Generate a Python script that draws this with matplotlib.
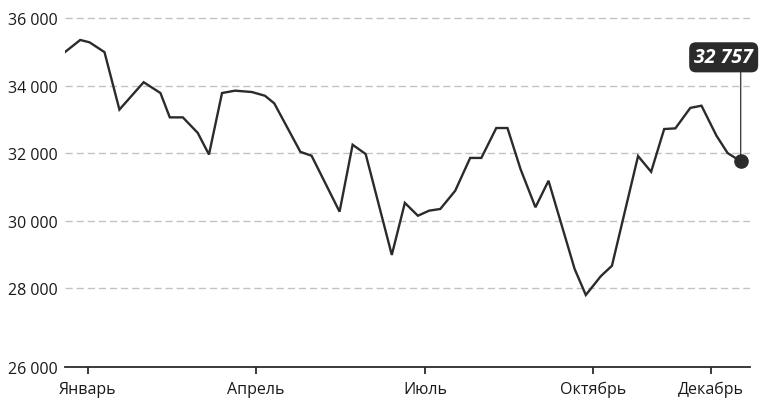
import matplotlib
matplotlib.use("Agg")
import matplotlib.pyplot as plt
import pandas as pd

# weekly-ish index values over the year
dates = ["2019-01-03", "2019-01-11", "2019-01-16", "2019-01-24", "2019-02-01",
         "2019-02-14", "2019-02-23", "2019-02-28", "2019-03-07", "2019-03-15",
         "2019-03-21", "2019-03-28", "2019-04-04", "2019-04-13", "2019-04-20",
         "2019-04-25", "2019-05-09", "2019-05-15", "2019-05-30", "2019-06-06",
         "2019-06-13", "2019-06-27", "2019-07-04", "2019-07-11", "2019-07-17",
         "2019-07-23", "2019-07-31", "2019-08-08", "2019-08-14", "2019-08-22",
         "2019-08-28", "2019-09-04", "2019-09-12", "2019-09-19", "2019-10-03",
         "2019-10-09", "2019-10-17", "2019-10-23", "2019-11-06", "2019-11-13",
         "2019-11-20", "2019-11-26", "2019-12-04", "2019-12-10", "2019-12-18",
         "2019-12-24", "2019-12-31"]
values = [35000, 35350, 35280, 34990, 33290,
          34100, 33780, 33060, 33060, 32600,
          31960, 33780, 33850, 33810, 33700,
          33475, 32040, 31925, 30270, 32250,
          31975, 28990, 30530, 30150, 30300,
          30350, 30890, 31860, 31860, 32745,
          32745, 31530, 30400, 31185, 28575,
          27805, 28360, 28670, 31915, 31450,
          32715, 32735, 33340, 33405, 32520,
          32005, 31760]

month_ticks = ["2019-01-15", "2019-04-15", "2019-07-15", "2019-10-13", "2019-12-15"]
month_labels = ["Январь", "Апрель", "Июль", "Октябрь", "Декабрь"]

y_ticks = [28000, 30000, 32000, 34000, 36000]
y_labels = ["26 000", "28 000", "30 000", "32 000", "34 000", "36 000"]
callout_text = "32 757"

plt.rcParams['font.family'] = ['Open Sans', 'DejaVu Sans']
ink = '#2b2b2b'

x = pd.to_datetime(dates)
ymin, ymax = 25675, 36266

fig = plt.figure(figsize=(7.61, 4.02), dpi=100)
ax = fig.add_axes([65/761, 1 - 368/402, 685/761, 358/402])

ax.plot(x, values, color=ink, lw=1.7, solid_joinstyle='miter', zorder=3)
ax.plot(x[-1:], values[-1:], 'o', color=ink, ms=9.5, zorder=4)

# callout with stem down to the last point
ax.annotate('', xy=(x[-1], values[-1]), xytext=(0, 90),
            xycoords='data', textcoords='offset pixels',
            arrowprops=dict(arrowstyle='-', color='#444444', lw=1.0,
                            shrinkA=0, shrinkB=0), zorder=2)
ax.annotate(callout_text, xy=(x[-1], values[-1]), xytext=(-17, 104),
            xycoords='data', textcoords='offset pixels',
            ha='center', va='center', fontsize=14, color='white',
            fontweight='bold', fontstyle='italic', annotation_clip=False,
            bbox=dict(boxstyle='round,pad=0.26,rounding_size=0.35',
                      fc=ink, ec='none'), zorder=5)

ax.set_xlim(pd.Timestamp("2019-01-02 20:00"), pd.Timestamp("2020-01-05"))
ax.set_ylim(ymin, ymax)

ax.set_yticks([ymin] + y_ticks)
ax.set_yticklabels(y_labels)
ax.set_xticks(pd.to_datetime(month_ticks))
ax.set_xticklabels(month_labels)

for v in y_ticks:
    ax.axhline(v, color='#c2c2c2', lw=1.0, ls=(0, (5.2, 2.8)), zorder=1)

for s in ['top', 'right', 'left']:
    ax.spines[s].set_visible(False)
ax.spines['bottom'].set_color(ink)
ax.spines['bottom'].set_linewidth(1.3)

ax.tick_params(axis='y', length=0, pad=5, labelsize=11.5, labelcolor='#1a1a1a')
ax.tick_params(axis='x', length=5, width=1.3, color=ink, pad=5,
               labelsize=11.5, labelcolor='#1a1a1a')

fig.savefig('out.png', dpi=100)
